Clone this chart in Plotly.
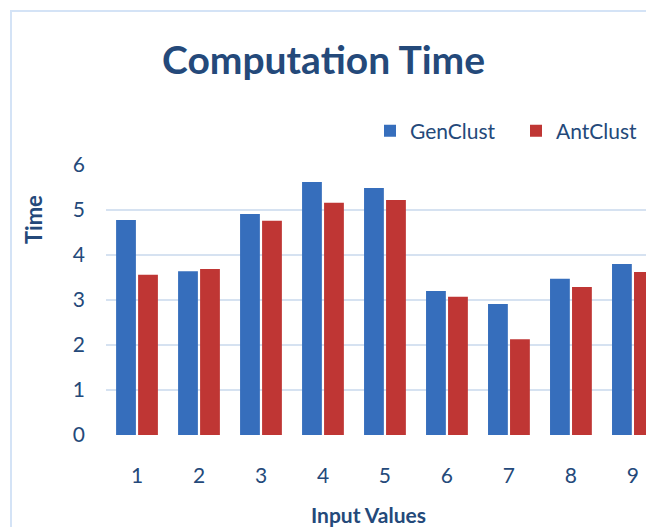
import plotly.graph_objects as go

categories = ["1", "2", "3", "4", "5", "6", "7", "8", "9"]
genclust = [4.78, 3.64, 4.91, 5.62, 5.49, 3.20, 2.91, 3.47, 3.80]
antclust = [3.56, 3.69, 4.76, 5.16, 5.22, 3.07, 2.13, 3.29, 3.62]
y_ticks = [0, 1, 2, 3, 4, 5, 6]

FONT = "Lato"
DARK = "#24497a"
GRID = "#d6e2f1"

fig = go.Figure()
fig.add_bar(x=categories, y=genclust, name="GenClust", legend="legend",
            marker=dict(color="#366ebc", line=dict(width=0)))
fig.add_bar(x=categories, y=antclust, name="AntClust", legend="legend2",
            marker=dict(color="#bf3634", line=dict(width=0)))

leg_common = dict(orientation="h", xanchor="left", yanchor="middle", y=(435 - 131) / 270,
                  font=dict(size=21, color=DARK), bgcolor="rgba(0,0,0,0)", borderwidth=0)

fig.update_layout(
    width=646, height=519,
    margin=dict(l=98, r=0, t=157, b=92),
    paper_bgcolor="white", plot_bgcolor="white",
    barmode="group", bargap=0.29, bargroupgap=0.1,
    font=dict(family=FONT, color=DARK, size=21),
    showlegend=True,
    legend=dict(x=(370 - 106) / 548, **leg_common),
    legend2=dict(x=(516 - 106) / 548, **leg_common),
    xaxis=dict(type="category", range=[-0.5, 8.34], showgrid=False, showline=False,
               zeroline=False, ticks="", ticklabelstandoff=26,
               tickfont=dict(size=21, color=DARK)),
    yaxis=dict(range=[0, 6], tickvals=y_ticks, showgrid=True, gridcolor=GRID, gridwidth=2,
               zeroline=False, showline=False, ticks="", ticklabelstandoff=20,
               tickfont=dict(size=21, color=DARK)),
    annotations=[
        dict(text="<b>Computation Time</b>", xref="paper", yref="paper",
             x=(323 - 106) / 548, y=(435 - 59) / 270, xanchor="center", yanchor="middle",
             showarrow=False, font=dict(size=39, color=DARK, family=FONT)),
        dict(text="<b>Input Values</b>", xref="paper", yref="paper",
             x=(368 - 106) / 548, y=(435 - 514) / 270, xanchor="center", yanchor="middle",
             showarrow=False, font=dict(size=21, color=DARK, family=FONT)),
        dict(text="<b>Time</b>", xref="paper", yref="paper", textangle=-90,
             x=(33 - 106) / 548, y=(435 - 220) / 270, xanchor="center", yanchor="middle",
             showarrow=False, font=dict(size=22, color=DARK, family=FONT)),
    ],
    shapes=[
        dict(type="line", xref="paper", yref="paper",
             x0=(10 - 106) / 548, x1=1.05, y0=(435 - 11) / 270, y1=(435 - 11) / 270,
             line=dict(color="#d4e3f6", width=2)),
        dict(type="line", xref="paper", yref="paper",
             x0=(11 - 106) / 548, x1=(11 - 106) / 548, y0=(435 - 11) / 270, y1=-0.4,
             line=dict(color="#d4e3f6", width=2)),
    ],
)

fig.write_html("out.html")
